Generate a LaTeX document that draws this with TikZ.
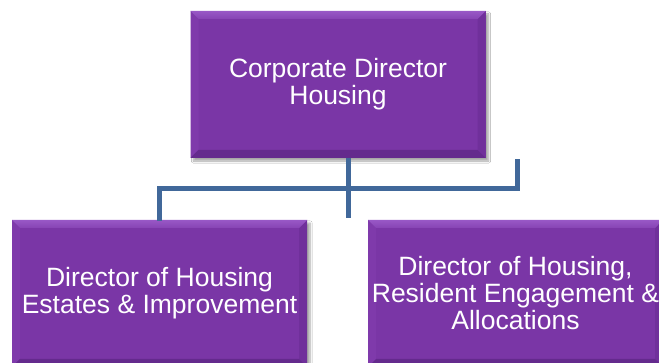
\documentclass[tikz,border=0pt]{standalone}
\usepackage{fontspec}
\setmainfont{Liberation Sans}
\usetikzlibrary{shadows.blur}
\definecolor{boxpurple}{HTML}{7A36A6}
\definecolor{bevtop}{HTML}{9858C6}
\definecolor{bevtoplow}{HTML}{8744B4}
\definecolor{bevleft}{HTML}{7F3AAB}
\definecolor{bevright}{HTML}{70309B}
\definecolor{bevbot}{HTML}{642A8D}
\definecolor{linkblue}{HTML}{41689A}
\tikzset{
  orgbox/.style={
    minimum width=295pt, minimum height=147pt, inner sep=0pt,
    fill=boxpurple, text=white, align=center,
    font=\fontsize{26.5pt}{27pt}\selectfont,
    blur shadow={shadow xshift=3pt, shadow yshift=-3pt, shadow blur steps=6, shadow opacity=35},
    path picture={
      \coordinate (nw) at (path picture bounding box.north west);
      \coordinate (ne) at (path picture bounding box.north east);
      \coordinate (sw) at (path picture bounding box.south west);
      \coordinate (se) at (path picture bounding box.south east);
      \fill[bevleft] (nw) -- ([shift={(8pt,-8pt)}]nw) -- ([shift={(8pt,8pt)}]sw) -- (sw) -- cycle;
      \fill[bevright] (ne) -- ([shift={(-8pt,-8pt)}]ne) -- ([shift={(-8pt,8pt)}]se) -- (se) -- cycle;
      \fill[bevbot] (sw) -- ([shift={(8pt,8pt)}]sw) -- ([shift={(-8pt,8pt)}]se) -- (se) -- cycle;
      \shade[top color=bevtop, bottom color=bevtoplow] (nw) -- (ne) -- ([shift={(-8pt,-8pt)}]ne) -- ([shift={(8pt,-8pt)}]nw) -- cycle;
    }
  },
  link/.style={draw=linkblue, line width=5pt, line join=miter}
}
\begin{document}
\begin{tikzpicture}[x=1pt,y=1pt]
\clip (0,0) rectangle (659,-363);
\fill[white] (0,0) rectangle (659,-363);
\node[orgbox] (top) at (338,-84.5) {Corporate Director\\Housing};
\node[orgbox] (l) at (159.5,-293.5) {Director of Housing\\Estates \& Improvement};
\node[orgbox] (r) at (515.5,-293.5) {Director of Housing,\\Resident Engagement \&\\Allocations};
\coordinate (vend) at (348,-218);
\coordinate (rstub) at (517,-159);
\draw[link] ([xshift=10pt]top.south) -- (vend);
\draw[link] ([yshift=-1pt]l.north) -- ++(0,32) -| (rstub);
\end{tikzpicture}
\end{document}
